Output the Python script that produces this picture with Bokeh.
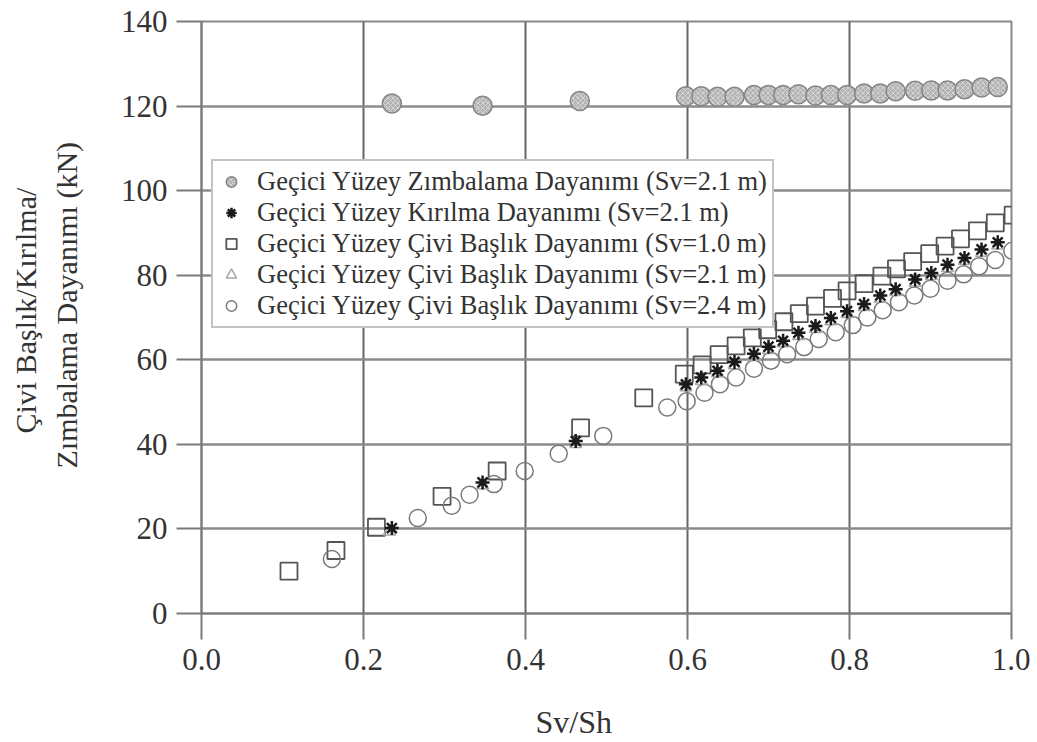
from bokeh.plotting import figure
from bokeh.models import (FixedTicker, Legend, LegendItem, Title, NumeralTickFormatter,
                          Range1d, LinearAxis)
from bokeh.embed import file_html
from bokeh.resources import INLINE

# ---- data ----
x_ticks = [0.0, 0.2, 0.4, 0.6, 0.8, 1.0]
y_ticks = [0, 20, 40, 60, 80, 100, 120, 140]

zimb_x = [0.235, 0.347, 0.467, 0.598, 0.617, 0.637, 0.658, 0.682, 0.700, 0.718, 0.737, 0.758,
          0.777, 0.797, 0.818, 0.838, 0.857, 0.881, 0.901, 0.921, 0.942, 0.963, 0.983]
zimb_y = [120.6, 120.1, 121.2, 122.3, 122.3, 122.2, 122.2, 122.6, 122.6, 122.6, 122.8, 122.5,
          122.6, 122.6, 123.0, 123.0, 123.5, 123.6, 123.7, 123.7, 124.0, 124.4, 124.5]

kir_x = [0.235, 0.347, 0.462, 0.598, 0.617, 0.637, 0.658, 0.682, 0.700, 0.718, 0.737, 0.758,
         0.777, 0.797, 0.818, 0.838, 0.857, 0.881, 0.901, 0.921, 0.942, 0.963, 0.983]
kir_y = [20.2, 31.0, 40.8, 54.2, 55.8, 57.4, 59.5, 61.4, 63.1, 64.5, 66.4, 68.0,
         69.9, 71.5, 73.2, 75.2, 76.7, 79.0, 80.5, 82.5, 84.1, 86.1, 87.8]

tri_x = [0.232, 0.347, 0.462, 0.598, 0.617, 0.637, 0.658, 0.682, 0.700, 0.718, 0.737, 0.758,
         0.777, 0.797, 0.818, 0.838, 0.857, 0.881, 0.901, 0.921, 0.942, 0.963, 0.983]
tri_y = [19.4, 30.3, 40.1, 53.5, 55.0, 56.8, 58.7, 60.7, 62.3, 63.9, 65.6, 67.3,
         69.1, 70.8, 72.5, 74.4, 76.0, 78.2, 79.8, 81.7, 83.4, 85.3, 87.0]

sq_x = [0.108, 0.166, 0.216, 0.297, 0.365, 0.468, 0.546, 0.596, 0.618, 0.639, 0.660, 0.680,
        0.699, 0.719, 0.738, 0.758, 0.779, 0.797, 0.818, 0.840, 0.858, 0.878, 0.899, 0.918,
        0.937, 0.958, 0.980, 1.002]
sq_y = [10.0, 14.9, 20.4, 27.7, 33.7, 43.9, 51.0, 56.6, 58.8, 61.2, 63.3, 65.2,
        67.1, 69.0, 70.9, 72.7, 74.5, 76.3, 78.0, 79.8, 81.5, 83.2, 85.1, 86.9,
        88.6, 90.5, 92.4, 94.2]

ci_x = [0.161, 0.267, 0.309, 0.331, 0.361, 0.399, 0.441, 0.496, 0.575, 0.599, 0.621, 0.640,
        0.660, 0.682, 0.703, 0.723, 0.744, 0.762, 0.783, 0.804, 0.822, 0.841, 0.861, 0.880,
        0.900, 0.921, 0.941, 0.960, 0.980, 1.001]
ci_y = [12.9, 22.6, 25.5, 28.1, 30.6, 33.7, 37.8, 42.0, 48.7, 50.2, 52.2, 54.2,
        55.8, 57.9, 59.8, 61.3, 63.0, 64.9, 66.5, 68.2, 70.0, 71.7, 73.6, 75.2,
        76.8, 78.7, 80.2, 82.1, 83.6, 85.8]

legend_labels = [
    "Geçici Yüzey Zımbalama Dayanımı (Sv=2.1 m)",
    "Geçici Yüzey Kırılma Dayanımı (Sv=2.1 m)",
    "Geçici Yüzey Çivi Başlık Dayanımı (Sv=1.0 m)",
    "Geçici Yüzey Çivi Başlık Dayanımı (Sv=2.1 m)",
    "Geçici Yüzey Çivi Başlık Dayanımı (Sv=2.4 m)",
]
x_label = "Sv/Sh"
y_label_lines = ["Çivi Başlık/Kırılma/", "Zımbalama Dayanımı (kN)"]

# ---- figure ----
FONT = "Liberation Serif"
TXT = "#333333"
p = figure(width=1030, height=742, output_backend="svg", toolbar_location=None,
           x_range=Range1d(0, 1.0), y_range=Range1d(0, 140),
           min_border_left=201, min_border_right=19, min_border_top=21, min_border_bottom=129)
p.background_fill_color = "white"
p.border_fill_color = "white"
p.outline_line_color = "#8a8a8a"
p.outline_line_width = 2

p.xaxis.ticker = FixedTicker(ticks=x_ticks)
p.yaxis.ticker = FixedTicker(ticks=y_ticks)
p.xgrid.ticker = FixedTicker(ticks=x_ticks)
p.ygrid.ticker = FixedTicker(ticks=y_ticks)
p.xaxis.formatter = NumeralTickFormatter(format="0.0")

for ax in (p.xaxis[0], p.yaxis[0]):
    ax.axis_line_color = "#7a7a7a"
    ax.axis_line_width = 2
    ax.major_tick_line_color = "#7a7a7a"
    ax.major_tick_line_width = 2
    ax.major_tick_in = 0
    ax.minor_tick_line_color = None
    ax.major_label_text_font = FONT
    ax.major_label_text_font_size = "31px"
    ax.major_label_text_color = TXT
    ax.major_label_standoff = 9
p.xaxis.major_tick_out = 26
p.yaxis.major_tick_out = 25

p.xgrid.grid_line_color = "#666666"
p.xgrid.grid_line_width = 2
p.ygrid.grid_line_color = "#8c8c8c"
p.ygrid.grid_line_width = 2.5


def spacer(size, tick):
    """An invisible axis used only to reserve space before the axis titles."""
    a = LinearAxis(ticker=FixedTicker(ticks=[tick]), major_label_overrides={tick: ""},
                   axis_line_color=None, major_tick_line_color=None,
                   minor_tick_line_color=None, major_tick_in=0, major_tick_out=size,
                   major_label_standoff=0, major_label_text_font_size="1px")
    return a


p.add_layout(spacer(31, 0.5), "below")
p.add_layout(Title(text=x_label, align="left", offset=334, standoff=0, vertical_align="top",
                   text_font=FONT, text_font_size="32px", text_font_style="normal",
                   text_color=TXT), "below")

p.add_layout(spacer(35, 70), "left")
p.add_layout(Title(text=y_label_lines[1], align="left", offset=145, standoff=0,
                   vertical_align="bottom", text_font=FONT, text_font_size="30px",
                   text_font_style="normal", text_color=TXT), "left")
p.add_layout(Title(text=y_label_lines[0], align="left", offset=180, standoff=12,
                   vertical_align="bottom", text_font=FONT, text_font_size="30px",
                   text_font_style="normal", text_color=TXT), "left")

r_zimb = p.scatter(zimb_x, zimb_y, marker="circle", size=19, fill_color="#b3b3b3",
                   line_color="#858585", line_width=1.5, hatch_pattern="x",
                   hatch_color="#d6d6d6", hatch_scale=5, hatch_weight=1)
r_sq = p.scatter(sq_x, sq_y, marker="square", size=17, fill_color=None,
                 line_color="#555555", line_width=1.8)
r_ci = p.scatter(ci_x, ci_y, marker="circle", size=17, fill_color=None,
                 line_color="#7a7a7a", line_width=1.5)
r_tri = p.scatter(tri_x, tri_y, marker="triangle", size=12, fill_color=None,
                  line_color="#a8a8a8", line_width=1.5)
r_kir = p.scatter(kir_x, kir_y, marker="asterisk", size=14, line_color="#1a1a1a",
                  line_width=2.5)

legend = Legend(items=[
    LegendItem(label=legend_labels[0], renderers=[r_zimb]),
    LegendItem(label=legend_labels[1], renderers=[r_kir]),
    LegendItem(label=legend_labels[2], renderers=[r_sq]),
    LegendItem(label=legend_labels[3], renderers=[r_tri]),
    LegendItem(label=legend_labels[4], renderers=[r_ci]),
], location=(10, 285), padding=5, spacing=0, margin=0,
    glyph_width=26, glyph_height=29, label_height=29, label_standoff=13,
    label_text_font=FONT, label_text_font_size="26.5px", label_text_color=TXT,
    border_line_color="#888888", border_line_width=2.5,
    background_fill_color="white", background_fill_alpha=1.0)
p.add_layout(legend)

open("out.html", "w").write(file_html(p, INLINE))
